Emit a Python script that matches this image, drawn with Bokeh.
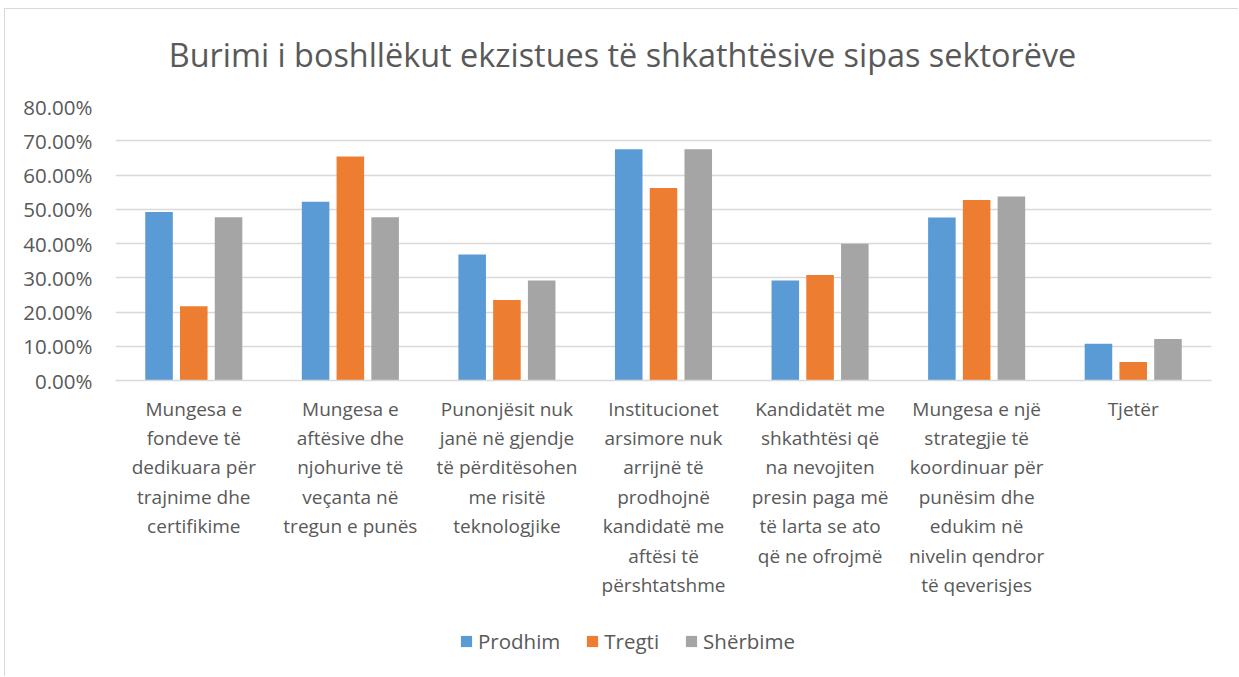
from bokeh.plotting import figure
from bokeh.layouts import column
from bokeh.models import (ColumnDataSource, FactorRange, NumeralTickFormatter, Legend,
                          LegendItem, SingleIntervalTicker, Range1d, Label)
from bokeh.transform import dodge
from bokeh.embed import file_html
from bokeh.resources import INLINE

title_text = "Burimi i boshllëkut ekzistues të shkathtësive sipas sektorëve"

categories = [
    "Mungesa e\nfondeve të\ndedikuara për\ntrajnime dhe\ncertifikime",
    "Mungesa e\naftësive dhe\nnjohurive të\nveçanta në\ntregun e punës",
    "Punonjësit nuk\njanë në gjendje\ntë përditësohen\nme risitë\nteknologjike",
    "Institucionet\narsimore nuk\narrijnë të\nprodhojnë\nkandidatë me\naftësi të\npërshtatshme",
    "Kandidatët me\nshkathtësi që\nna nevojiten\npresin paga më\ntë larta se ato\nqë ne ofrojmë",
    "Mungesa e një\nstrategjie të\nkoordinuar për\npunësim dhe\nedukim në\nnivelin qendror\ntë qeverisjes",
    "Tjetër",
]
series_names = ["Prodhim", "Tregti", "Shërbime"]
prodhim = [0.492, 0.522, 0.368, 0.675, 0.292, 0.476, 0.107]
tregti = [0.217, 0.654, 0.235, 0.562, 0.308, 0.527, 0.054]
sherbime = [0.477, 0.477, 0.292, 0.675, 0.399, 0.537, 0.121]
colors = ["#5B9BD5", "#ED7D31", "#A5A5A5"]

FONT = "Open Sans"
TXT = "#595959"
GRID = "#D9D9D9"


def strip(height):
    f = figure(width=1233, height=height, output_backend="svg", toolbar_location=None,
               x_range=Range1d(0, 1), y_range=Range1d(0, 1),
               min_border_left=0, min_border_right=0, min_border_top=0, min_border_bottom=0)
    f.axis.visible = False
    f.grid.visible = False
    f.outline_line_color = None
    return f


# title strip (its frame is aligned with the chart's frame)
tf = strip(80)
tf.add_layout(Label(x=507, y=36, x_units="screen", y_units="screen", text=title_text,
                    text_align="center", text_baseline="middle", text_font=FONT,
                    text_font_size="32.4px", text_color=TXT))

source = ColumnDataSource(data=dict(cat=categories, Prodhim=prodhim, Tregti=tregti, Sherbime=sherbime))

p = figure(width=1233, height=520, output_backend="svg", toolbar_location=None,
           x_range=FactorRange(factors=categories, range_padding=0),
           y_range=Range1d(0, 0.8),
           min_border_left=110, min_border_right=27, min_border_top=17, min_border_bottom=229)
p.title = None

fields = ["Prodhim", "Tregti", "Sherbime"]
offsets = [-0.222, 0.0, 0.222]
for f, off, c in zip(fields, offsets, colors):
    p.vbar(x=dodge("cat", off, range=p.x_range), top=f, width=0.176, source=source,
           fill_color=c, line_color=None)

p.yaxis.ticker = SingleIntervalTicker(interval=0.1, num_minor_ticks=0)
p.yaxis.formatter = NumeralTickFormatter(format="0.00%")
p.yaxis.axis_line_color = None
p.yaxis.major_tick_line_color = None
p.yaxis.minor_tick_line_color = None
p.yaxis.major_label_standoff = 17
p.yaxis.major_label_text_font = FONT
p.yaxis.major_label_text_font_size = "20.5px"
p.yaxis.major_label_text_color = TXT

p.xaxis.axis_line_color = GRID
p.xaxis.axis_line_width = 1.3
p.xaxis.major_tick_line_color = None
p.xaxis.minor_tick_line_color = None
p.xaxis.major_label_standoff = 9
p.xaxis.major_label_text_font = FONT
p.xaxis.major_label_text_font_size = "19px"
p.xaxis.major_label_text_color = TXT
p.xaxis.major_label_text_line_height = 1.134

p.xgrid.grid_line_color = None
p.ygrid.grid_line_color = GRID
p.ygrid.grid_line_width = 1.3
p.outline_line_color = None

# legend strip below the chart
lf = strip(67)
hidden = ColumnDataSource(data=dict(x=[-10.0], top=[0.0]))
leg_renderers = [lf.vbar(x="x", top="top", width=0.1, source=hidden, fill_color=c, line_color=None)
                 for c in colors]
legend = Legend(items=[LegendItem(label=n, renderers=[r], index=0)
                       for n, r in zip(series_names, leg_renderers)],
                location=(344, 21), orientation="horizontal", glyph_width=14, glyph_height=14,
                label_standoff=5, spacing=25, padding=0, margin=0, border_line_alpha=0,
                background_fill_alpha=0, label_text_font=FONT, label_text_font_size="20.5px",
                label_text_color=TXT)
lf.add_layout(legend)

layout = column(tf, p, lf, spacing=0, margin=(8, 0, 0, 4))
layout.styles = {"border-left": "1px solid #D9D9D9", "border-top": "1px solid #D9D9D9"}

open("out.html", "w").write(file_html(layout, INLINE))
